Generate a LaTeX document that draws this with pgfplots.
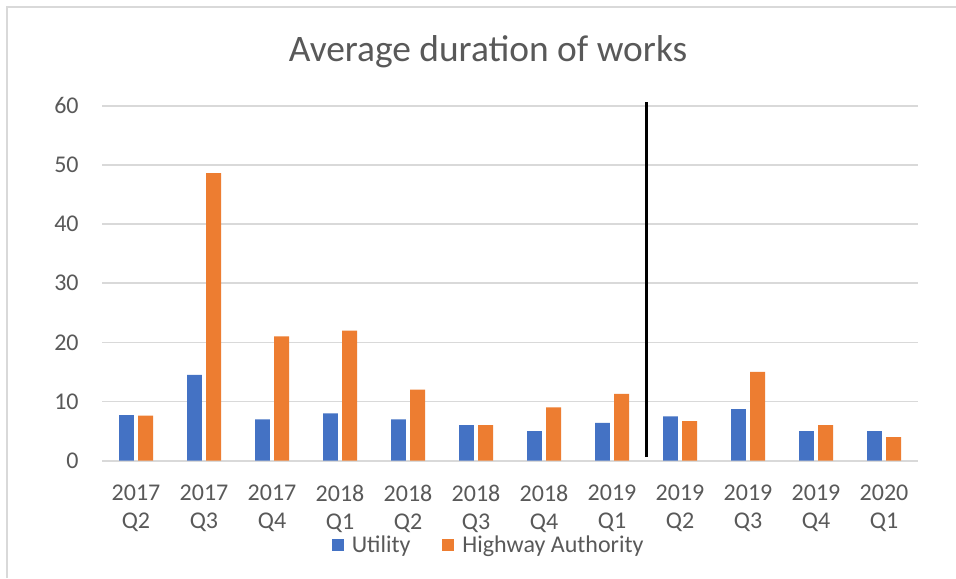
\documentclass[border=0pt]{standalone}
\usepackage{pgfplots}
\pgfplotsset{compat=1.18}
\usepackage{fontspec}
\setmainfont{Carlito}
\definecolor{uBlue}{HTML}{4472C4}
\definecolor{hOrange}{HTML}{ED7D31}
\definecolor{txtGray}{HTML}{595959}
\definecolor{gridGray}{HTML}{D9D9D9}
\begin{document}
\begin{tikzpicture}
\useasboundingbox (0,0) rectangle (478pt,289pt);
\fill[white] (0,0) rectangle (478pt,289pt);
\draw[gridGray, line width=0.8pt] (3.5pt,0) -- (3.5pt,285.5pt) -- (478pt,285.5pt);
\node[txtGray, font=\fontsize{18.7}{21}\selectfont, anchor=center] at (244pt,263pt) {Average duration of works};
\begin{axis}[
  at={(51pt,58.65pt)}, anchor=south west,
  scale only axis, width=408pt, height=177.5pt,
  xmin=-0.5, xmax=11.5, ymin=0, ymax=60,
  ytick={0,10,...,60},
  xtick={0,...,11},
  xticklabels={{2017\\Q2},{2017\\Q3},{2017\\Q4},{2018\\Q1},{2018\\Q2},{2018\\Q3},{2018\\Q4},{2019\\Q1},{2019\\Q2},{2019\\Q3},{2019\\Q4},{2020\\Q1}},
  xticklabel style={align=center, anchor=north, inner sep=0pt, yshift=-12pt, font=\fontsize{12}{13.85}\selectfont, text=txtGray},
  yticklabel style={anchor=east, inner sep=0pt, xshift=-11.5pt, font=\fontsize{12}{13.85}\selectfont, text=txtGray},
  /pgf/number format/assume math mode=true,
  major tick length=0pt,
  axis line style={draw=none},
  ymajorgrids, grid style={draw=gridGray, line width=0.8pt},
  ybar, bar width=0.22,
  clip=false,
  legend columns=2,
  legend style={at={(0.475,-0.238)}, anchor=center, draw=none, fill=none,
    font=\fontsize{12}{13.85}\selectfont, text=txtGray,
    /tikz/every even column/.append style={column sep=14pt}},
  legend image code/.code={\fill[#1] (0pt,-3pt) rectangle (6pt,3pt);},
]
\addplot[fill=uBlue, draw=none, bar shift=-0.14] coordinates {
(0,7.7) (1,14.5) (2,7.0) (3,8.0) (4,7.0) (5,6.0) (6,5.0) (7,6.4) (8,7.5) (9,8.7) (10,5.0) (11,5.0)};
\addlegendentry{\hspace{2pt}Utility}
\addplot[fill=hOrange, draw=none, bar shift=0.14] coordinates {
(0,7.6) (1,48.6) (2,21.0) (3,22.0) (4,12.0) (5,6.0) (6,9.0) (7,11.3) (8,6.7) (9,15.0) (10,6.0) (11,4.0)};
\addlegendentry{\hspace{2pt}Highway Authority}
\addplot[black, line width=1.5pt, forget plot, sharp plot] coordinates {(7.5,0.6) (7.5,60.6)};
\end{axis}
\end{tikzpicture}
\end{document}
